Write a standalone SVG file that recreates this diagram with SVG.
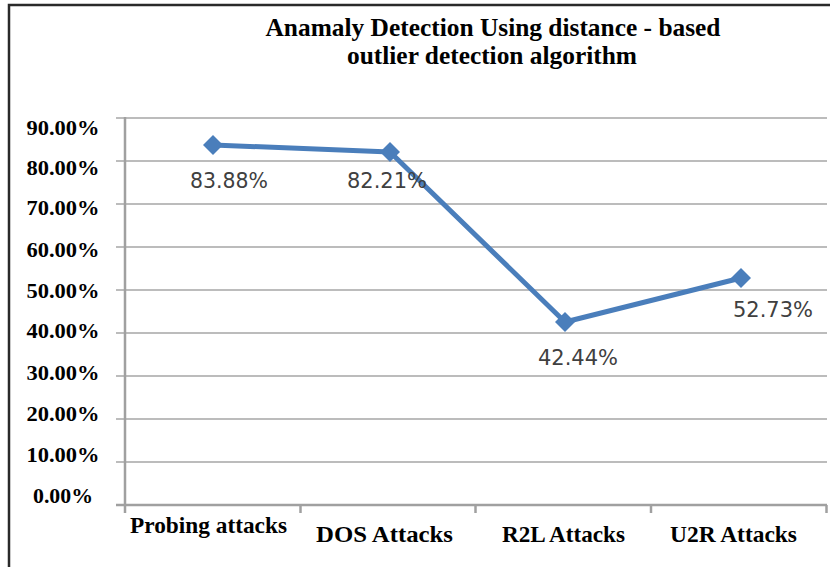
<svg xmlns="http://www.w3.org/2000/svg" width="830" height="567" viewBox="0 0 830 567">
<style>
.title{font-family:"Liberation Serif","Times New Roman",serif;font-weight:bold;font-size:26px;fill:#000;text-anchor:middle}
.ylab{font-family:"Liberation Serif","Times New Roman",serif;font-weight:bold;font-size:20.5px;fill:#000;text-anchor:middle}
.xlab{font-family:"Liberation Serif","Times New Roman",serif;font-weight:bold;font-size:23px;fill:#000}
.dlab{font-family:"DejaVu Sans","Liberation Sans",sans-serif;font-size:21px;fill:#404040;text-anchor:middle}
.grid{stroke:#a6a6a6;stroke-width:1.5;fill:none}
.axis{stroke:#a0a0a0;stroke-width:2.5;fill:none}
.series{stroke:#4a7ebb;stroke-width:5;fill:none;stroke-linejoin:round}
.mk{fill:#4a7ebb}
</style>
<defs>
<path id="dia" d="M0,-10 L10,0 L0,10 L-10,0 Z"/>
</defs>
<rect x="0" y="0" width="830" height="567" fill="#fff"/>
<path d="M9,567 L9,5 L830,5" fill="none" stroke="#2a2a2a" stroke-width="2.5"/>
<g id="title">
<text class="title" x="493" y="36" textLength="455" lengthAdjust="spacingAndGlyphs">Anamaly Detection Using distance - based</text>
<text class="title" x="492" y="64" textLength="290" lengthAdjust="spacingAndGlyphs">outlier detection algorithm</text>
</g>
<g id="grid">
<line class="grid" x1="116" y1="118" x2="827" y2="118"/>
<line class="grid" x1="116" y1="161" x2="827" y2="161"/>
<line class="grid" x1="116" y1="204" x2="827" y2="204"/>
<line class="grid" x1="116" y1="247" x2="827" y2="247"/>
<line class="grid" x1="116" y1="290" x2="827" y2="290"/>
<line class="grid" x1="116" y1="333" x2="827" y2="333"/>
<line class="grid" x1="116" y1="376" x2="827" y2="376"/>
<line class="grid" x1="116" y1="419" x2="827" y2="419"/>
<line class="grid" x1="116" y1="462" x2="827" y2="462"/>
</g>
<g id="axes">
<line class="axis" x1="125" y1="117" x2="125" y2="513"/>
<line class="axis" x1="116" y1="505" x2="827" y2="505"/>
<line class="axis" x1="300.5" y1="505" x2="300.5" y2="513"/>
<line class="axis" x1="475.5" y1="505" x2="475.5" y2="513"/>
<line class="axis" x1="651" y1="505" x2="651" y2="513"/>
<line class="axis" x1="826.5" y1="505" x2="826.5" y2="513"/>
</g>
<g id="y-labels">
<text class="ylab" x="63" y="135" textLength="73" lengthAdjust="spacingAndGlyphs">90.00%</text>
<text class="ylab" x="63" y="175" textLength="73" lengthAdjust="spacingAndGlyphs">80.00%</text>
<text class="ylab" x="63" y="215" textLength="73" lengthAdjust="spacingAndGlyphs">70.00%</text>
<text class="ylab" x="63" y="257" textLength="73" lengthAdjust="spacingAndGlyphs">60.00%</text>
<text class="ylab" x="63" y="298" textLength="73" lengthAdjust="spacingAndGlyphs">50.00%</text>
<text class="ylab" x="63" y="338" textLength="73" lengthAdjust="spacingAndGlyphs">40.00%</text>
<text class="ylab" x="63" y="380" textLength="73" lengthAdjust="spacingAndGlyphs">30.00%</text>
<text class="ylab" x="63" y="421" textLength="73" lengthAdjust="spacingAndGlyphs">20.00%</text>
<text class="ylab" x="63" y="462" textLength="73" lengthAdjust="spacingAndGlyphs">10.00%</text>
<text class="ylab" x="63" y="503" textLength="60" lengthAdjust="spacingAndGlyphs">0.00%</text>
</g>
<g id="x-labels">
<text class="xlab" x="130" y="533" textLength="157" lengthAdjust="spacingAndGlyphs">Probing attacks</text>
<text class="xlab" x="316" y="542" textLength="137" lengthAdjust="spacingAndGlyphs">DOS  Attacks</text>
<text class="xlab" x="502" y="542" textLength="123" lengthAdjust="spacingAndGlyphs">R2L Attacks</text>
<text class="xlab" x="670" y="542" textLength="127" lengthAdjust="spacingAndGlyphs">U2R Attacks</text>
</g>
<g id="connectors">
<polyline class="series" points="213,145 390,152 565,322 741,278"/>
</g>
<g id="p-probing">
<use href="#dia" class="mk" x="213" y="145"/>
<text class="dlab" x="229" y="188" textLength="78" lengthAdjust="spacingAndGlyphs">83.88%</text>
</g>
<g id="p-dos">
<use href="#dia" class="mk" x="390" y="152"/>
<text class="dlab" x="387" y="188" textLength="80" lengthAdjust="spacingAndGlyphs">82.21%</text>
</g>
<g id="p-r2l">
<use href="#dia" class="mk" x="565" y="322"/>
<text class="dlab" x="578" y="365" textLength="80" lengthAdjust="spacingAndGlyphs">42.44%</text>
</g>
<g id="p-u2r">
<use href="#dia" class="mk" x="741" y="278"/>
<text class="dlab" x="773" y="317" textLength="80" lengthAdjust="spacingAndGlyphs">52.73%</text>
</g>
</svg>
